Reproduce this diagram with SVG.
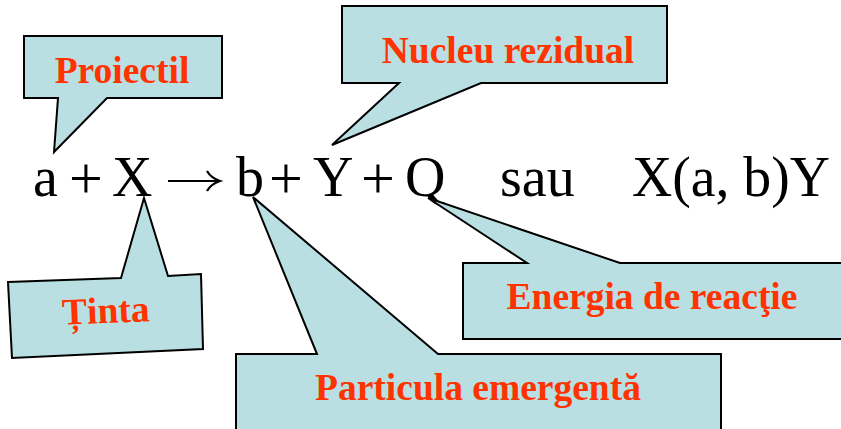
<svg xmlns="http://www.w3.org/2000/svg" width="841" height="429" viewBox="0 0 841 429">
<style>
.call{fill:#BADFE2;stroke:#000;stroke-width:2;stroke-linejoin:miter}
.lbl{font-family:"Liberation Serif","Times New Roman",serif;font-weight:bold;font-size:37.5px;fill:#FF3300;text-anchor:middle}
.eq{font-family:"Liberation Serif","Times New Roman",serif;font-size:56px;fill:#000}
.pl{font-family:"Liberation Serif","Times New Roman",serif;font-size:60px;fill:#000;text-anchor:middle}
</style>
<rect width="841" height="429" fill="#fff"/>
<g id="equation">
<text class="eq" x="33" y="196">a</text>
<text class="pl" x="86" y="198">+</text>
<text class="eq" x="112" y="196">X</text>
<path d="M168,181 H219 M207,171 Q211,178 220,181 Q211,184 207,191" fill="none" stroke="#000" stroke-width="2.2"/>
<text class="eq" x="236" y="196">b</text>
<text class="pl" x="286" y="198">+</text>
<text class="eq" x="313" y="196">Y</text>
<text class="pl" x="378" y="198">+</text>
<text class="eq" x="405" y="196">Q</text>
<text class="eq" x="500" y="196">sau</text>
<text class="eq" x="632" y="196" textLength="198" lengthAdjust="spacingAndGlyphs">X(a, b)Y</text>
</g>
<g id="proiectil">
<path class="call" d="M24,36 H222 V98 H107 L54,152 L58,98 H24 Z"/>
<text class="lbl" x="122" y="83">Proiectil</text>
</g>
<g id="nucleu">
<path class="call" d="M342,6 H667 V83 H481 L332,145 L399,83 H342 Z"/>
<text class="lbl" x="508" y="63">Nucleu rezidual</text>
</g>
<g id="tinta">
<path class="call" d="M8,282 L121,278 L144,198 L168,276 L201,274 L203,349 L12,358 Z"/>
<text class="lbl" x="106" y="323" transform="rotate(-2.4 106 316)">Ținta</text>
</g>
<g id="energia">
<path class="call" d="M463,263 H527 L428,198 L620,263 H842 V339 H463 Z"/>
<text class="lbl" x="652" y="309">Energia de reacţie</text>
</g>
<g id="particula">
<path class="call" d="M236,354 H317 L253,197 L438,354 H721 V432 H236 Z"/>
<text class="lbl" x="478" y="400">Particula emergentă</text>
</g>
</svg>
